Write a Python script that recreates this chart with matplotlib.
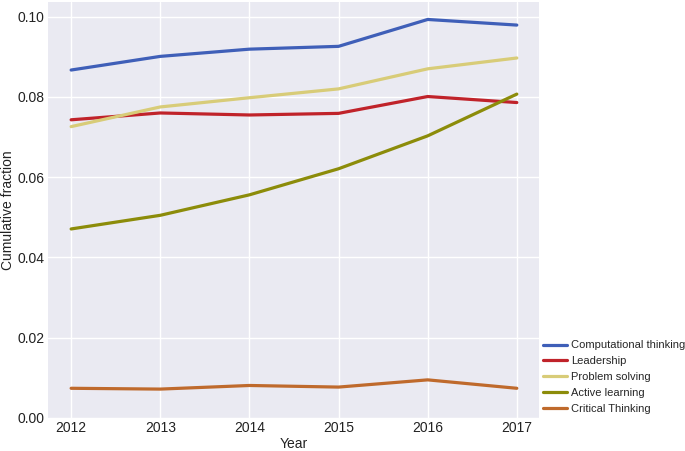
import matplotlib
matplotlib.use("Agg")
import matplotlib.pyplot as plt
import seaborn as sns

years = [2012, 2013, 2014, 2015, 2016, 2017]
computational = [0.0867, 0.0901, 0.0919, 0.0926, 0.0993, 0.0979]
leadership = [0.0743, 0.0760, 0.0755, 0.0759, 0.0801, 0.0786]
problem_solving = [0.0726, 0.0775, 0.0798, 0.0820, 0.0870, 0.0897]
active_learning = [0.0471, 0.0505, 0.0556, 0.0621, 0.0703, 0.0807]
critical_thinking = [0.0074, 0.0072, 0.0081, 0.0077, 0.0095, 0.0074]

labels = ["Computational thinking", "Leadership", "Problem solving",
          "Active learning", "Critical Thinking"]
series = [computational, leadership, problem_solving, active_learning, critical_thinking]
colors = ["#3f5fb8", "#c0232a", "#d8cc78", "#8c8c0a", "#bf6a2c"]

sns.set_style("darkgrid")
plt.rcParams['font.family'] = ['Liberation Sans', 'DejaVu Sans']

fig = plt.figure(figsize=(6.85, 4.51), dpi=100)
ax = fig.add_axes([0.070, 0.0732, 0.717, 0.9228])
ax.set_facecolor("#EAEAF2")
for vals, lab, c in zip(series, labels, colors):
    ax.plot(years, vals, color=c, lw=2.3, label=lab)

ax.set_xlim(2011.74, 2017.25)
ax.set_ylim(0, 0.1037)
ax.set_yticks([0.0, 0.02, 0.04, 0.06, 0.08, 0.10])
ax.set_yticklabels(["0.00", "0.02", "0.04", "0.06", "0.08", "0.10"])
ax.set_xticks(years)
ax.tick_params(labelsize=10, colors="#222222", length=0, pad=2.5)
ax.set_xlabel("Year", fontsize=10, color="#222222", labelpad=1)
ax.set_ylabel("Cumulative fraction", fontsize=10, color="#222222", labelpad=2)
for s in ax.spines.values():
    s.set_visible(False)
ax.grid(True, color="white", lw=1.0)

fig.legend(loc="lower left", bbox_to_anchor=(0.792, 0.083), frameon=False,
           fontsize=8, handlelength=2.2, handletextpad=0.4, labelspacing=0.52,
           borderaxespad=0.0, borderpad=0.0)

fig.savefig("out.png", dpi=100)
